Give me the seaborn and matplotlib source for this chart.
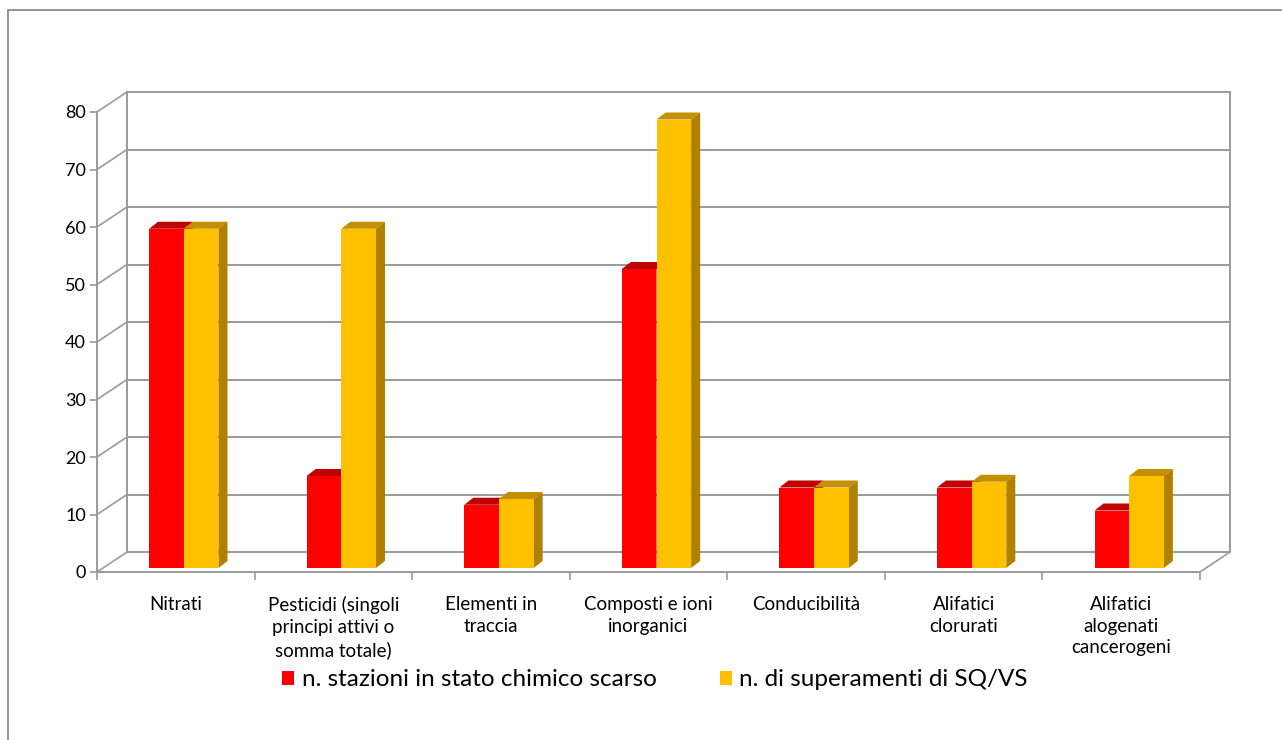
import pandas as pd
import matplotlib.pyplot as plt
import seaborn as sns
from matplotlib.patches import Polygon, Patch, Rectangle, ConnectionPatch
from matplotlib.transforms import ScaledTranslation, IdentityTransform

# ── Dati ─────────────────────────────────────────────────────
categorie = [
    "Nitrati",
    "Pesticidi (singoli\nprincipi attivi o\nsomma totale)",
    "Elementi in\ntraccia",
    "Composti e ioni\ninorganici",
    "Conducibilità",
    "Alifatici\nclorurati",
    "Alifatici\nalogenati\ncancerogeni",
]
stazioni_scarso = [59, 16, 11, 52, 14, 14, 10]
superamenti = [59, 59, 12, 78, 14, 15, 16]
serie = ["n. stazioni in stato chimico scarso", "n. di superamenti di SQ/VS"]
y_ticks = [0, 10, 20, 30, 40, 50, 60, 70, 80]

colori = ["#FF0000", "#FFC000"]
colori_top = ["#C00000", "#C49000"]
colori_lato = ["#A00000", "#B08000"]
GRIGIO = "#9A9A9A"

df = pd.DataFrame({
    "categoria": categorie * 2,
    "valore": stazioni_scarso + superamenti,
    "serie": [serie[0]] * len(categorie) + [serie[1]] * len(categorie),
})

# ── Figura ───────────────────────────────────────────────────
sns.set_theme(style="white")
plt.rcParams["font.family"] = ["Lato", "DejaVu Sans"]

W, H, DPI = 1282, 740, 100
fig = plt.figure(figsize=(W / DPI, H / DPI), dpi=DPI)
ax = fig.add_axes([97 / W, 168 / H, 1103 / W, 460 / H])

sns.barplot(data=df, x="categoria", y="valore", hue="serie",
            palette=colori, width=0.44, saturation=1, legend=False,
            ax=ax, zorder=3, linewidth=0)
ax.set_xlim(-0.5, len(categorie) - 0.5)
ax.set_ylim(0, 80)

# piano posteriore (effetto 3D)
back = ax.transData + ScaledTranslation(30 / DPI, 20 / DPI, fig.dpi_scale_trans)
x0, x1 = -0.5, len(categorie) - 0.5
for t in y_ticks:
    ax.plot([x0, x1], [t, t], transform=back, color=GRIGIO, lw=1.4,
            clip_on=False, zorder=1)
    ax.add_artist(ConnectionPatch(xyA=(x0, t), coordsA=ax.transData,
                                  xyB=(x0, t), coordsB=back,
                                  color=GRIGIO, lw=1.2, zorder=1, clip_on=False))
for xx in [x0, x1]:
    ax.plot([xx, xx], [0, 80], transform=back, color=GRIGIO, lw=1.4,
            clip_on=False, zorder=1)
ax.add_artist(ConnectionPatch(xyA=(x1, 0), coordsA=ax.transData,
                              xyB=(x1, 0), coordsB=back,
                              color=GRIGIO, lw=1.2, zorder=1, clip_on=False))

# barre spostate a metà profondità, con lato e tetto
bar_off = ax.transData + ScaledTranslation(8 / DPI, 4 / DPI, fig.dpi_scale_trans)
dx, dy = 9, 7
n = len(categorie)
barre = list(ax.patches[:2 * n])
for i, p in enumerate(barre):
    s = i // n
    p.set_transform(bar_off)
    p.set_zorder(3)
    x, w, h = p.get_x(), p.get_width(), p.get_height()
    (ax_, ay_), (bx_, by_), (cx_, cy_) = bar_off.transform([(x, h), (x + w, h), (x + w, 0)])
    top = Polygon([(ax_, ay_), (bx_, by_), (bx_ + dx, by_ + dy), (ax_ + dx, ay_ + dy)],
                  closed=True, transform=IdentityTransform(),
                  facecolor=colori_top[s], edgecolor="none", zorder=2.5, clip_on=False)
    lato = Polygon([(cx_, cy_), (bx_, by_), (bx_ + dx, by_ + dy), (cx_ + dx, cy_ + dy)],
                   closed=True, transform=IdentityTransform(),
                   facecolor=colori_lato[s], edgecolor="none", zorder=2.5, clip_on=False)
    ax.add_patch(top)
    ax.add_patch(lato)

# assi
for lato_ in ["top", "right"]:
    ax.spines[lato_].set_visible(False)
for lato_ in ["left", "bottom"]:
    ax.spines[lato_].set_color(GRIGIO)
    ax.spines[lato_].set_linewidth(1.4)
ax.patch.set_alpha(0)

ax.set_yticks(y_ticks)
ax.tick_params(axis="y", left=True, length=5, width=1.2, color=GRIGIO,
               labelsize=13, pad=3, labelcolor="black")
ax.set_xticks(range(n))
ax.set_xticklabels(categorie, fontsize=13.5, linespacing=1.35)
ax.tick_params(axis="x", bottom=False, length=0, pad=17, labelcolor="black")
ax.set_xticks([k - 0.5 for k in range(n + 1)], minor=True)
ax.tick_params(axis="x", which="minor", bottom=True, length=6, width=1.2,
               color=GRIGIO, direction="out")
ax.set_xlabel("")
ax.set_ylabel("")
ax.grid(False)

# cornice esterna
fig.add_artist(Rectangle((8 / W, -0.2), 2, 1.2 - 10 / H, transform=fig.transFigure,
                         fill=False, edgecolor="#8C8C8C", lw=1.3))

# legenda
handles = [Patch(facecolor=c, edgecolor="none") for c in colori]
leg = fig.legend(handles, serie, loc="center", bbox_to_anchor=(655 / W, 1 - 680 / H),
                 ncol=2, frameon=False, fontsize=17.5, handlelength=0.5, handleheight=0.5,
                 handletextpad=0.3, columnspacing=2.6)
for testo in leg.get_texts():
    testo.set_color("black")

fig.savefig("out.png", dpi=DPI)
